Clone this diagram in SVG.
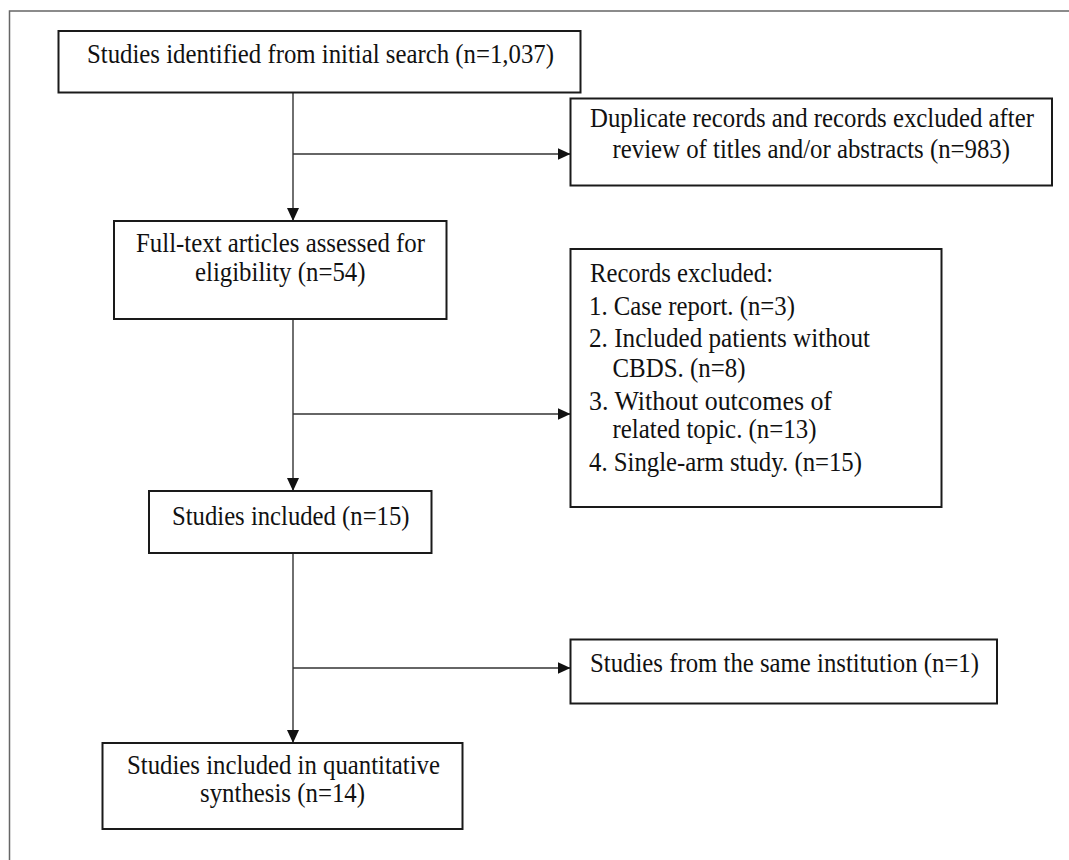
<svg xmlns="http://www.w3.org/2000/svg" width="1069" height="860" viewBox="0 0 1069 860">
<style>
.box{fill:#fff;stroke:#1a1a1a;stroke-width:2}
.t{font-family:"Liberation Serif","Times New Roman",serif;font-size:28px;fill:#111}
.c{fill:none;stroke:#333;stroke-width:1.4}
.frame{fill:none;stroke:#666;stroke-width:1.5}
</style>
<defs>
<marker id="ah" viewBox="0 0 13 12" refX="13" refY="6" markerWidth="13" markerHeight="12" markerUnits="userSpaceOnUse" orient="auto">
<path d="M0,0 L13,6 L0,12 Z" fill="#111"/>
</marker>
</defs>
<rect width="1069" height="860" fill="#fff"/>
<path class="frame" d="M9.5,860 V11 H1069"/>
<g id="connectors">
<line class="c" x1="293" y1="93" x2="293" y2="221" marker-end="url(#ah)"/>
<line class="c" x1="293" y1="154" x2="570.5" y2="154" marker-end="url(#ah)"/>
<line class="c" x1="293" y1="319" x2="293" y2="491" marker-end="url(#ah)"/>
<line class="c" x1="293" y1="414" x2="570.5" y2="414" marker-end="url(#ah)"/>
<line class="c" x1="293" y1="553" x2="293" y2="743" marker-end="url(#ah)"/>
<line class="c" x1="293" y1="668" x2="570.5" y2="668" marker-end="url(#ah)"/>
</g>
<g id="n1">
<rect class="box" x="58.5" y="31" width="522" height="61.5"/>
<text class="t" x="87" y="63" textLength="467" lengthAdjust="spacingAndGlyphs">Studies identified from initial search (n=1,037)</text>
</g>
<g id="n2">
<rect class="box" x="570.5" y="98.5" width="481.5" height="87"/>
<text class="t" x="590" y="127" textLength="444" lengthAdjust="spacingAndGlyphs">Duplicate records and records excluded after</text>
<text class="t" x="612.5" y="158" textLength="397.5" lengthAdjust="spacingAndGlyphs">review of titles and/or abstracts (n=983)</text>
</g>
<g id="n3">
<rect class="box" x="114" y="221" width="332.5" height="98"/>
<text class="t" x="136" y="252" textLength="289" lengthAdjust="spacingAndGlyphs">Full-text articles assessed for</text>
<text class="t" x="195" y="281" textLength="170.5" lengthAdjust="spacingAndGlyphs">eligibility (n=54)</text>
</g>
<g id="n4">
<rect class="box" x="570.5" y="249" width="371" height="258"/>
<text class="t" x="590" y="282" textLength="183" lengthAdjust="spacingAndGlyphs">Records excluded:</text>
<text class="t" x="589" y="315" textLength="206" lengthAdjust="spacingAndGlyphs">1. Case report. (n=3)</text>
<text class="t" x="589" y="347" textLength="281" lengthAdjust="spacingAndGlyphs">2. Included patients without</text>
<text class="t" x="612.5" y="377" textLength="133" lengthAdjust="spacingAndGlyphs">CBDS. (n=8)</text>
<text class="t" x="589" y="410" textLength="243" lengthAdjust="spacingAndGlyphs">3. Without outcomes of</text>
<text class="t" x="612.5" y="438" textLength="204" lengthAdjust="spacingAndGlyphs">related topic. (n=13)</text>
<text class="t" x="589" y="471" textLength="273" lengthAdjust="spacingAndGlyphs">4. Single-arm study. (n=15)</text>
</g>
<g id="n5">
<rect class="box" x="149" y="491" width="282.5" height="62"/>
<text class="t" x="172" y="525" textLength="237.5" lengthAdjust="spacingAndGlyphs">Studies included (n=15)</text>
</g>
<g id="n6">
<rect class="box" x="570.5" y="639.5" width="426.5" height="64"/>
<text class="t" x="590" y="672" textLength="389" lengthAdjust="spacingAndGlyphs">Studies from the same institution (n=1)</text>
</g>
<g id="n7">
<rect class="box" x="102.5" y="743" width="360" height="86"/>
<text class="t" x="127" y="774" textLength="313" lengthAdjust="spacingAndGlyphs">Studies included in quantitative</text>
<text class="t" x="200" y="802" textLength="165" lengthAdjust="spacingAndGlyphs">synthesis (n=14)</text>
</g>
</svg>
